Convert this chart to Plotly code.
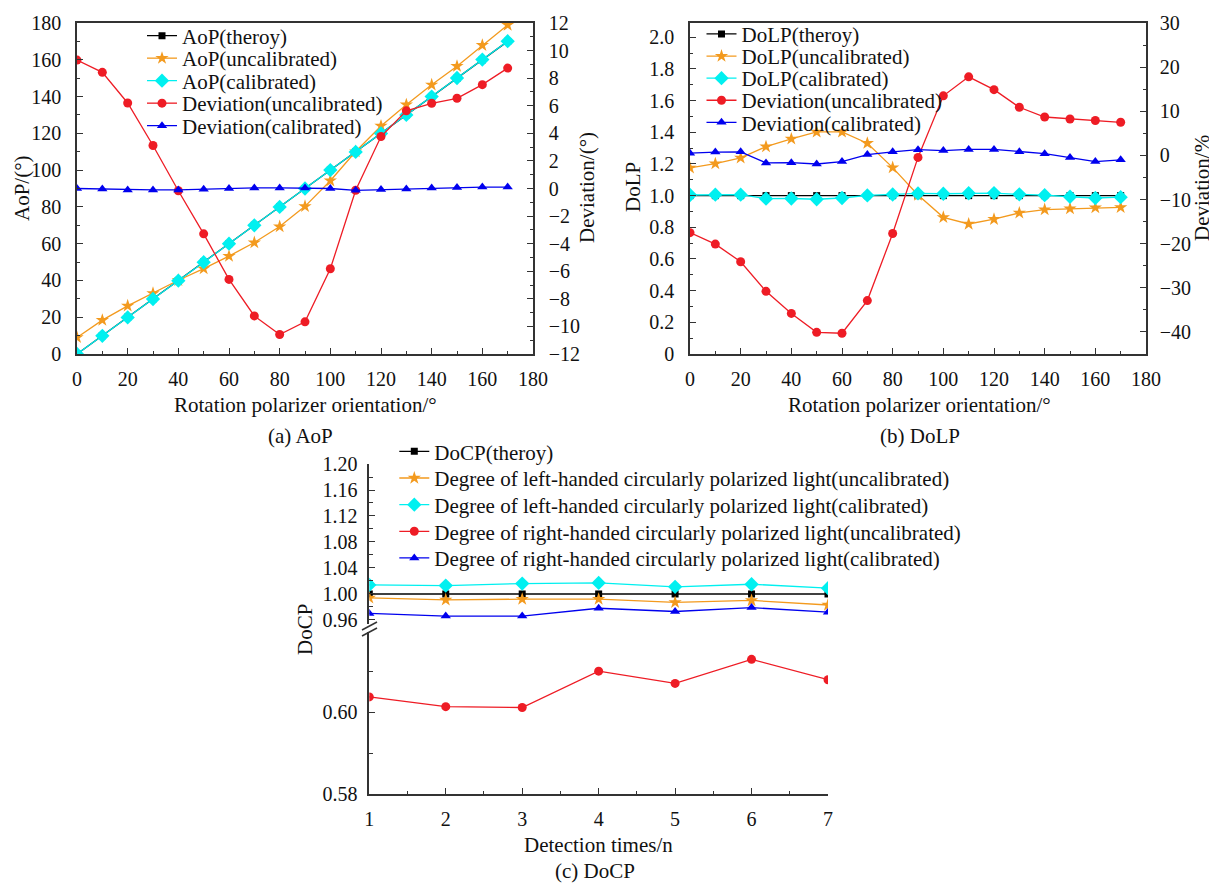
import plotly.graph_objects as go

W, H = 1217, 883
OFF = 8  # the page body margin shifts the figure by 8 px

# ---------------- data ----------------
angle = [0, 10, 20, 30, 40, 50, 60, 70, 80, 90, 100, 110, 120, 130, 140, 150, 160, 170]

aop_theory = [0, 10, 20, 30, 40, 50, 60, 70, 80, 90, 100, 110, 120, 130, 140, 150, 160, 170]
aop_uncal = [9.0, 18.4, 26.2, 33.0, 40.1, 46.4, 53.2, 60.6, 69.3, 80.3, 94.2, 110.1,
             124.0, 135.6, 146.4, 156.5, 167.9, 178.9]
aop_cal = [0.0, 9.9, 19.9, 29.9, 39.9, 49.9, 60.0, 70.0, 80.0, 90.0, 100.0, 109.9,
           119.9, 130.0, 140.0, 150.1, 160.1, 170.1]
aop_dev_uncal = [9.31, 8.42, 6.20, 3.12, -0.16, -3.29, -6.59, -9.24, -10.59, -9.67, -5.82,
                 -0.13, 3.77, 5.63, 6.18, 6.54, 7.53, 8.73]
aop_dev_cal = [0.0, -0.04, -0.1, -0.1, -0.1, -0.05, 0.0, 0.04, 0.04, 0.04, 0.0, -0.13,
               -0.08, -0.03, 0.04, 0.08, 0.1, 0.1]

dolp_theory = [1.0] * 18
dolp_uncal = [1.175, 1.202, 1.238, 1.309, 1.358, 1.402, 1.402, 1.331, 1.177, 1.004, 0.863,
              0.821, 0.851, 0.891, 0.912, 0.918, 0.924, 0.926]
dolp_cal = [1.004, 1.006, 1.006, 0.981, 0.982, 0.977, 0.985, 1.001, 1.007, 1.014, 1.012,
            1.015, 1.016, 1.008, 1.003, 0.993, 0.985, 0.990]
dolp_dev_uncal = [-17.5, -20.1, -24.1, -30.8, -35.8, -40.1, -40.3, -32.9, -17.7, -0.45, 13.5,
                  17.8, 14.9, 10.9, 8.7, 8.25, 7.9, 7.5]
dolp_dev_cal = [0.5, 0.75, 0.8, -1.7, -1.65, -1.95, -1.4, 0.2, 0.8, 1.3, 1.1, 1.35, 1.35,
                0.8, 0.4, -0.5, -1.4, -1.0]

times = [1, 2, 3, 4, 5, 6, 7]
docp_theory = [1.0, 1.0, 1.0, 1.0, 1.0, 1.0, 1.0]
docp_left_uncal = [0.994, 0.991, 0.992, 0.992, 0.987, 0.990, 0.983]
docp_left_cal = [1.014, 1.013, 1.016, 1.017, 1.011, 1.015, 1.009]
docp_right_uncal = [0.6038, 0.6014, 0.6012, 0.6101, 0.6071, 0.6130, 0.6080]
docp_right_cal = [0.970, 0.966, 0.966, 0.978, 0.973, 0.979, 0.972]

# tick labels
aop_ticks = [0, 20, 40, 60, 80, 100, 120, 140, 160, 180]
dolp_tickvals = [0, 0.2, 0.4, 0.6, 0.8, 1.0, 1.2, 1.4, 1.6, 1.8, 2.0]
dolp_ticktext = ["0", "0.2", "0.4", "0.6", "0.8", "1.0", "1.2", "1.4", "1.6", "1.8", "2.0"]
docp_up_vals = [0.96, 1.00, 1.04, 1.08, 1.12, 1.16, 1.20]
docp_up_text = ["0.96", "1.00", "1.04", "1.08", "1.12", "1.16", "1.20"]
docp_low_vals = [0.58, 0.60]
docp_low_text = ["0.58", "0.60"]

# ---------------- styling ----------------
FONT = "Liberation Serif, serif"
BLACK = "#000000"
ORANGE = "#F39A1E"
CYAN = "#00F0F0"
RED = "#EE1C25"
BLUE = "#0000EE"
AX = "#333333"
TXT = "#111111"


def fx(px):
    return (px - OFF) / W


def fy(py):
    return 1 - (py - OFF) / H


styles = [
    dict(color=BLACK, symbol="square", size=7),
    dict(color=ORANGE, symbol="star", size=10),
    dict(color=CYAN, symbol="diamond", size=11),
    dict(color=RED, symbol="circle", size=9),
    dict(color=BLUE, symbol="triangle-up", size=9),
]

fig = go.Figure()

legend_count = [0]
legend_layouts = {}


def add(x, y, name, st, xa, ya, marker_x, center_y):
    legend_count[0] += 1
    k = legend_count[0]
    key = "legend" if k == 1 else f"legend{k}"
    legend_layouts[key] = dict(
        x=fx(marker_x - 20), y=fy(center_y), xanchor="left", yanchor="middle",
        bgcolor="rgba(0,0,0,0)", borderwidth=0,
        font=dict(family=FONT, size=21, color=TXT),
    )
    fig.add_trace(go.Scatter(
        x=x, y=y, name=name, mode="lines+markers",
        line=dict(color=st["color"], width=1.3),
        marker=dict(color=st["color"], symbol=st["symbol"], size=st["size"], line=dict(width=0)),
        xaxis=xa, yaxis=ya, legend=key,
    ))


# panel (a)
a_names = ["AoP(theroy)", "AoP(uncalibrated)", "AoP(calibrated)",
           "Deviation(uncalibrated)", "Deviation(calibrated)"]
a_series = [(aop_theory, "y"), (aop_uncal, "y"), (aop_cal, "y"),
            (aop_dev_uncal, "y2"), (aop_dev_cal, "y2")]
for i, ((ser, ya), nm) in enumerate(zip(a_series, a_names)):
    add(angle, ser, nm, styles[i], "x", ya, 162, 36 + 22.5 * i)

# panel (b)
b_names = ["DoLP(theroy)", "DoLP(uncalibrated)", "DoLP(calibrated)",
           "Deviation(uncalibrated)", "Deviation(calibrated)"]
b_series = [(dolp_theory, "y3"), (dolp_uncal, "y3"), (dolp_cal, "y3"),
            (dolp_dev_uncal, "y4"), (dolp_dev_cal, "y4")]
for i, ((ser, ya), nm) in enumerate(zip(b_series, b_names)):
    add(angle, ser, nm, styles[i], "x2", ya, 721.5, 34.3 + 22.1 * i)

# panel (c)
c_names = ["DoCP(theroy)",
           "Degree of left-handed circularly polarized light(uncalibrated)",
           "Degree of left-handed circularly polarized light(calibrated)",
           "Degree of right-handed circularly polarized light(uncalibrated)",
           "Degree of right-handed circularly polarized light(calibrated)"]
c_series = [(docp_theory, "y6"), (docp_left_uncal, "y6"), (docp_left_cal, "y6"),
            (docp_right_uncal, "y5"), (docp_right_cal, "y6")]
for i, ((ser, ya), nm) in enumerate(zip(c_series, c_names)):
    add(times, ser, nm, styles[i], "x3", ya, 414.3, 451.7 + 26.65 * i)

tickfont = dict(family=FONT, size=20, color=TXT)


def axbase(**kw):
    d = dict(showgrid=False, zeroline=False, showline=True, linecolor=AX, linewidth=1.5,
             ticks="inside", ticklen=6, tickwidth=1.3, tickcolor=AX, tickfont=tickfont,
             ticklabelstandoff=6)
    d.update(kw)
    return d


def minor(dt, t0):
    return dict(ticks="inside", ticklen=3.5, dtick=dt, tick0=t0, tickcolor=AX, tickwidth=1.2)


layout = dict(
    width=W, height=H,
    margin=dict(l=0, r=0, t=0, b=0, autoexpand=False),
    paper_bgcolor="white", plot_bgcolor="white",
    showlegend=True,
    font=dict(family=FONT, size=21, color=TXT),
    # panel a
    xaxis=axbase(domain=[fx(77), fx(533)], anchor="y", range=[0, 180],
                 tickmode="array", tickvals=aop_ticks, mirror=True, minor=minor(10, 0)),
    yaxis=axbase(domain=[fy(354), fy(23)], anchor="x", range=[0, 180],
                 tickmode="array", tickvals=aop_ticks, ticklabelstandoff=10,
                 minor=minor(10, 0)),
    yaxis2=axbase(overlaying="y", side="right", anchor="x", range=[-12, 12], dtick=2,
                  tick0=0, ticklabelstandoff=10, minor=minor(1, 0)),
    # panel b
    xaxis2=axbase(domain=[fx(690), fx(1146)], anchor="y3", range=[0, 180],
                  tickmode="array", tickvals=aop_ticks, mirror=True, minor=minor(10, 0)),
    yaxis3=axbase(domain=[fy(354), fy(23)], anchor="x2", range=[0, 2.09],
                  tickmode="array", tickvals=dolp_tickvals, ticktext=dolp_ticktext,
                  ticklabelstandoff=10, minor=minor(0.1, 0)),
    yaxis4=axbase(overlaying="y3", side="right", anchor="x2", range=[-45, 30], dtick=10,
                  tick0=0, ticklabelstandoff=8, minor=minor(5, 0)),
    # panel c
    xaxis3=axbase(domain=[fx(369.3), fx(828)], anchor="y5", range=[1, 7], dtick=1, tick0=1,
                  minor=minor(0.5, 1)),
    yaxis5=axbase(domain=[fy(794), fy(632)], anchor="x3", range=[0.58, 0.6197],
                  tickmode="array", tickvals=docp_low_vals, ticktext=docp_low_text,
                  minor=minor(0.01, 0.58)),
    yaxis6=axbase(domain=[fy(624), fy(464)], anchor="x3", range=[0.9538, 1.2],
                  tickmode="array", tickvals=docp_up_vals, ticktext=docp_up_text,
                  minor=minor(0.02, 0.96)),
)
layout.update(legend_layouts)
fig.update_layout(**layout)

# axis titles and captions
texts = [
    ("AoP/(°)", 22, 188, -90),
    ("Deviation/(°)", 587, 188, -90),
    ("DoLP", 633, 187, -90),
    ("Deviation/%", 1202, 188, -90),
    ("DoCP", 305, 630, -90),
    ("Rotation polarizer orientation/°", 305, 405, 0),
    ("Rotation polarizer orientation/°", 919, 405, 0),
    ("Detection times/n", 598, 845, 0),
    ("(a) AoP", 300, 436, 0),
    ("(b) DoLP", 920, 436, 0),
    ("(c) DoCP", 595, 871, 0),
]
for t, x, y, ang in texts:
    fig.add_annotation(text=t, x=fx(x), y=fy(y), xref="paper", yref="paper",
                       xanchor="center", yanchor="middle", showarrow=False,
                       textangle=ang, font=dict(family=FONT, size=21, color=TXT))

# axis break marks
for dy in (0, 6):
    fig.add_shape(type="line", xref="paper", yref="paper",
                  x0=fx(362), y0=fy(630 + dy), x1=fx(377), y1=fy(622 + dy),
                  line=dict(color=AX, width=1.5))

fig.write_html("out.html")
